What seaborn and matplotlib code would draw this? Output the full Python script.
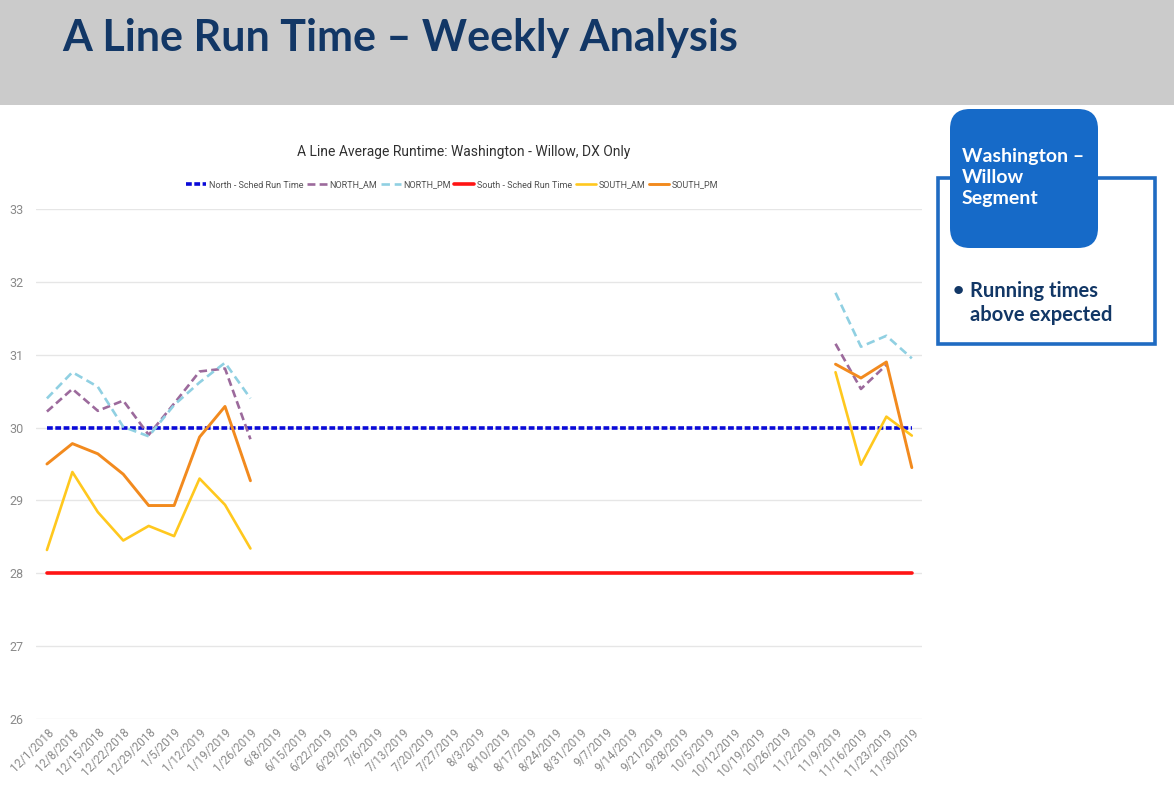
import numpy as np
import pandas as pd
import matplotlib
matplotlib.use("Agg")
import matplotlib.pyplot as plt
from matplotlib import font_manager
from matplotlib.patches import Rectangle, FancyBboxPatch
import seaborn as sns

nan = np.nan

weeks = ["12/1/2018", "12/8/2018", "12/15/2018", "12/22/2018", "12/29/2018",
         "1/5/2019", "1/12/2019", "1/19/2019", "1/26/2019",
         "6/8/2019", "6/15/2019", "6/22/2019", "6/29/2019",
         "7/6/2019", "7/13/2019", "7/20/2019", "7/27/2019",
         "8/3/2019", "8/10/2019", "8/17/2019", "8/24/2019", "8/31/2019",
         "9/7/2019", "9/14/2019", "9/21/2019", "9/28/2019",
         "10/5/2019", "10/12/2019", "10/19/2019", "10/26/2019",
         "11/2/2019", "11/9/2019", "11/16/2019", "11/23/2019", "11/30/2019"]

gap = [nan] * 22  # weeks 6/8 .. 11/2 have no observations

north_sched = [30.0] * len(weeks)
south_sched = [28.0] * len(weeks)
north_am = [30.22, 30.53, 30.23, 30.37, 29.90, 30.33, 30.77, 30.81, 29.84] + gap + [31.15, 30.53, 30.86, nan]
north_pm = [30.40, 30.76, 30.56, 30.01, 29.88, 30.31, 30.62, 30.89, 30.40] + gap + [31.85, 31.11, 31.26, 30.95]
south_am = [28.32, 29.39, 28.84, 28.45, 28.65, 28.51, 29.30, 28.94, 28.34] + gap + [30.76, 29.49, 30.15, 29.89]
south_pm = [29.50, 29.78, 29.64, 29.36, 28.93, 28.93, 29.87, 30.29, 29.27] + gap + [30.87, 30.68, 30.90, 29.45]

series = [
    ("North - Sched Run Time", north_sched, "#0A0AD8", (0, (1.6, 0.7)), 2.6),
    ("NORTH_AM", north_am, "#9C6A9C", (0, (3.0, 1.6)), 1.9),
    ("NORTH_PM", north_pm, "#90D0E2", (0, (3.2, 1.8)), 1.9),
    ("South - Sched Run Time", south_sched, "#FF1414", "-", 2.6),
    ("SOUTH_AM", south_am, "#FFC81E", "-", 1.9),
    ("SOUTH_PM", south_pm, "#F28A1E", "-", 2.1),
]

sns.set_style("white")
available = {f.name for f in font_manager.fontManager.ttflist}
chart_font = "Roboto" if "Roboto" in available else "DejaVu Sans"
head_font = "Lato" if "Lato" in available else "DejaVu Sans"
plt.rcParams["font.family"] = [chart_font, "DejaVu Sans"]

fig = plt.figure(figsize=(11.74, 7.86), dpi=100)
ax = fig.add_axes([36 / 1174, 1 - 719 / 786, (922 - 36) / 1174, (719 - 209) / 786])

x = np.arange(len(weeks))
for name, vals, color, ls, lw in series:
    df = pd.DataFrame({"week": x, "value": vals})
    # split into runs so the missing weeks show as gaps
    df["run"] = df["value"].isna().cumsum()
    df = df.dropna()
    first = True
    for _, part in df.groupby("run"):
        sns.lineplot(data=part, x="week", y="value", ax=ax, color=color,
                     linestyle=ls, linewidth=lw, label=name if first else None,
                     legend=False)
        first = False

ax.set_xlim(-0.43, len(weeks) - 1 + 0.4)
ax.set_ylim(26, 33)
ax.set_yticks(range(26, 34))
ax.set_xticks(x)
ax.set_xticklabels(weeks, rotation=45, ha="right", rotation_mode="anchor")
ax.tick_params(axis="x", colors="#8A8A8A", labelsize=8.4, length=0, pad=5)
ax.tick_params(axis="y", colors="#8A8A8A", labelsize=9, length=0, pad=9)
ax.grid(axis="y", color="#E6E6E6", linewidth=1)
ax.set_xlabel("")
ax.set_ylabel("")
sns.despine(ax=ax, left=True, bottom=True)

handles, labels = ax.get_legend_handles_labels()
fig.legend(handles, labels, loc="center", bbox_to_anchor=(452 / 1174, 1 - 185 / 786),
           ncol=6, frameon=False, fontsize=6.5, handlelength=2.2,
           handletextpad=0.3, columnspacing=0.4, labelcolor="#505050")

fig.text(464 / 1174, 1 - 152 / 786, "A Line Average Runtime: Washington - Willow, DX Only",
         ha="center", va="center", fontsize=10, color="#303030")

# header band
fig.patches.append(Rectangle((0, 1 - 105 / 786), 1, 105 / 786, transform=fig.transFigure,
                             facecolor="#CBCBCB", edgecolor="none", zorder=0))
fig.text(62 / 1174, 1 - 38 / 786, "A Line Run Time \u2013 Weekly Analysis",
         ha="left", va="center", fontsize=31, fontweight="bold",
         color="#123766", family=[head_font, "DejaVu Sans"])

# side panel (inch coordinates)
tr = fig.dpi_scale_trans
fig.patches.append(Rectangle((9.38, 7.86 - 3.44), 2.17, 1.66, transform=tr,
                             facecolor="white", edgecolor="#1F6BC2", linewidth=2.6))
fig.patches.append(FancyBboxPatch((9.50, 7.86 - 2.48), 1.48, 1.39, transform=tr,
                                  boxstyle="round,pad=0,rounding_size=0.2",
                                  facecolor="#166AC8", edgecolor="none"))
fig.text(9.62, 7.86 - 1.775, "Washington \u2013\nWillow\nSegment", transform=tr,
         ha="left", va="center", fontsize=14, fontweight="bold", color="white",
         linespacing=1.3, family=[head_font, "DejaVu Sans"])
fig.text(9.53, 7.86 - 2.91, "\u2022", transform=tr, ha="left", va="center",
         fontsize=14, fontweight="bold", color="#123766", family=[head_font, "DejaVu Sans"])
fig.text(9.70, 7.86 - 3.03, "Running times\nabove expected", transform=tr,
         ha="left", va="center", fontsize=14.5, fontweight="bold", color="#123766",
         linespacing=1.25, family=[head_font, "DejaVu Sans"])

fig.savefig("out.png", dpi=100)
